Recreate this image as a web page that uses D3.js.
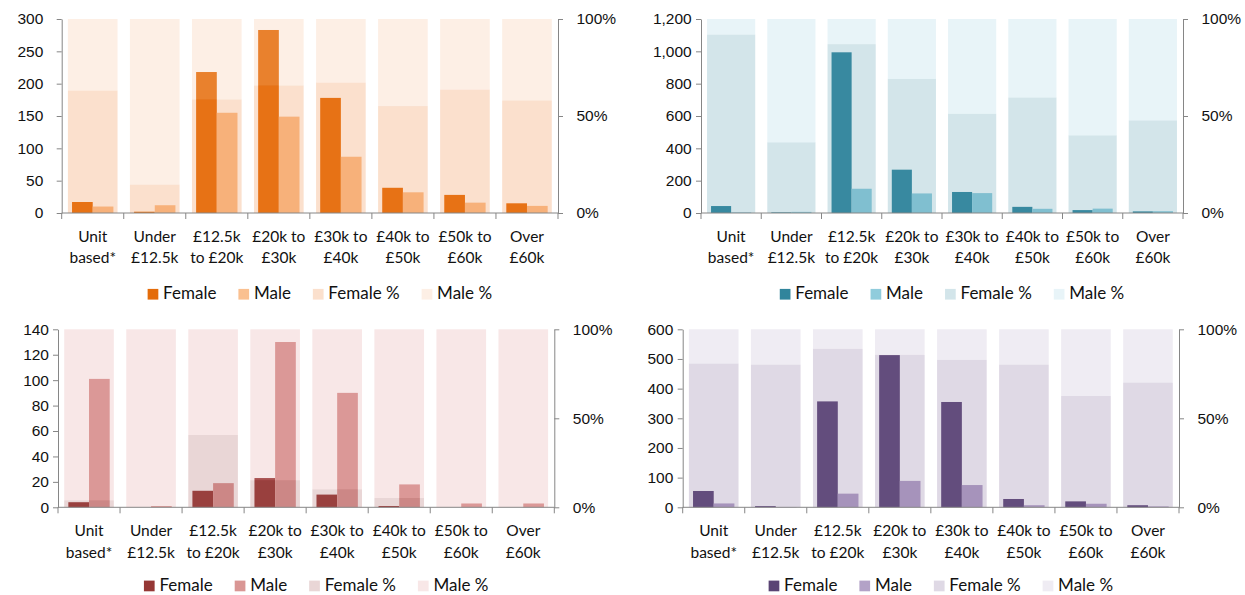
<!DOCTYPE html>
<html>
<head>
<meta charset="utf-8">
<script src="https://cdn.jsdelivr.net/npm/d3@7"></script>
<style>
  html, body { margin: 0; padding: 0; background: #fff; }
  svg { display: block; font-family: Lato, "Noto Sans", sans-serif; }
  .axis path, .axis line { stroke: #868686; }
  .axis text { fill: #111; font-size: 15.5px; }
</style>
</head>
<body>
<svg id="chart" width="1245" height="595"></svg>
<script>
// Salary bands shared by all four charts
const categories = ["Unit\nbased*", "Under\n£12.5k", "£12.5k\nto £20k", "£20k to\n£30k",
                    "£30k to\n£40k", "£40k to\n£50k", "£50k to\n£60k", "Over\n£60k"];
const seriesNames = ["Female", "Male", "Female %", "Male %"];
const pctTicks = [0, 50, 100];

// Orange chart (top left)
const orangeFemale    = [17, 2, 218, 283, 178, 39, 28, 15];
const orangeMale      = [10, 12, 155, 149, 87, 32, 16, 11];
const orangeFemalePct = [63.1, 14.6, 58.5, 65.7, 67.2, 55.1, 63.6, 58.0];
const orangeMalePct   = [36.9, 85.4, 41.5, 34.3, 32.8, 44.9, 36.4, 42.0];
const orangeTicks     = [0, 50, 100, 150, 200, 250, 300];

// Teal chart (top right)
const tealFemale    = [43, 4, 994, 268, 130, 38, 18, 10];
const tealMale      = [4, 7, 150, 121, 123, 26, 27, 11];
const tealFemalePct = [91.9, 36.4, 87.0, 69.1, 51.1, 59.5, 40.0, 47.7];
const tealMalePct   = [8.1, 63.6, 13.0, 30.9, 48.9, 40.5, 60.0, 52.3];
const tealTicks     = [0, 200, 400, 600, 800, 1000, 1200];

// Red chart (bottom left)
const redFemale    = [4, 0, 13, 23, 10, 1, 0, 0];
const redMale      = [101, 1, 19, 130, 90, 18, 3, 3];
const redFemalePct = [3.9, 0, 40.6, 15.2, 10.1, 5.2, 0, 0];
const redMalePct   = [96.1, 100, 59.4, 84.8, 89.9, 94.8, 100, 100];
const redTicks     = [0, 20, 40, 60, 80, 100, 120, 140];

// Purple chart (bottom right)
const purpleFemale    = [55, 4, 357, 513, 355, 28, 20, 7];
const purpleMale      = [13, 1, 46, 89, 75, 7, 12, 3];
const purpleFemalePct = [80.7, 80.1, 89.0, 85.6, 82.8, 80.1, 62.5, 70.0];
const purpleMalePct   = [19.3, 19.9, 11.0, 14.4, 17.2, 19.9, 37.5, 30.0];
const purpleTicks     = [0, 100, 200, 300, 400, 500, 600];

const OVERLAY = 0.25; // share % bars sit on top, semi-transparent

const panels = [
  { female: orangeFemale, male: orangeMale, fPct: orangeFemalePct, mPct: orangeMalePct, ticks: orangeTicks,
    colors: ["#e46c0a", "#fac090", "#ef8337", "#f7bf97"],
    box: { l: 61.7, r: 558, t: 19, b: 213 }, leftPad: 13.4, legendY: 86.2 },
  { female: tealFemale, male: tealMale, fPct: tealFemalePct, mPct: tealMalePct, ticks: tealTicks,
    colors: ["#31859c", "#90ccdc", "#4f97ab", "#a3d3e3"],
    box: { l: 701, r: 1183, t: 19, b: 213 }, leftPad: 4.3, legendY: 86.2 },
  { female: redFemale, male: redMale, fPct: redFemalePct, mPct: redMalePct, ticks: redTicks,
    colors: ["#953735", "#d99694", "#a75b5b", "#e39f9f"],
    box: { l: 58, r: 554.3, t: 329.3, b: 507.3 }, leftPad: 4.0, legendY: 83.6 },
  { female: purpleFemale, male: purpleMale, fPct: purpleFemalePct, mPct: purpleMalePct, ticks: purpleTicks,
    colors: ["#5a4474", "#b3a2c7", "#7f6797", "#bfb3cf"],
    box: { l: 682.7, r: 1179, t: 329.3, b: 507.3 }, leftPad: 4.4, legendY: 83.6 }
];

const svg = d3.select("#chart");
const fmt = d3.format(",");

panels.forEach(p => {
  const { l, r, t, b } = p.box;
  const g = svg.append("g");

  const x = d3.scaleBand().domain(categories).range([l, r]).padding(0);
  const bw = x.bandwidth();
  const y = d3.scaleLinear().domain([0, d3.max(p.ticks)]).range([b, t]);
  const yPct = d3.scaleLinear().domain([0, 100]).range([b, t]);

  // Count bars (clustered)
  const groupW = bw / 1.5;
  const inner = d3.scaleBand().domain(["female", "male"]).range([0, groupW]).padding(0);
  const rows = categories.map((c, i) => ({ c, female: p.female[i], male: p.male[i] }));
  ["female", "male"].forEach((key, k) => {
    g.selectAll(null).data(rows).join("rect")
      .attr("x", d => x(d.c) + (bw - groupW) / 2 + inner(key))
      .attr("width", inner.bandwidth())
      .attr("y", d => y(d[key]))
      .attr("height", d => y(0) - y(d[key]))
      .attr("fill", p.colors[k]);
  });

  // Share bars stacked to 100%, drawn over the counts
  const pctRows = categories.map((c, i) => ({ c, fPct: p.fPct[i], mPct: p.mPct[i] }));
  const stack = d3.stack().keys(["fPct", "mPct"])(pctRows);
  stack.forEach((layer, k) => {
    g.selectAll(null).data(layer).join("rect")
      .attr("x", d => x(d.data.c) + bw * 0.1)
      .attr("width", bw * 0.8)
      .attr("y", d => yPct(d[1]))
      .attr("height", d => yPct(d[0]) - yPct(d[1]))
      .attr("fill", p.colors[2 + k])
      .attr("fill-opacity", OVERLAY);
  });

  // Left value axis
  g.append("g").attr("class", "axis").attr("transform", `translate(${l},0)`)
    .call(d3.axisLeft(y).tickValues(p.ticks).tickSize(5).tickPadding(p.leftPad).tickSizeOuter(0).tickFormat(fmt));

  // Right percentage axis
  g.append("g").attr("class", "axis").attr("transform", `translate(${r},0)`)
    .call(d3.axisRight(yPct).tickValues(pctTicks).tickSize(5).tickPadding(13.5).tickSizeOuter(0).tickFormat(d => d + "%"));

  // Category axis with ticks between bands
  const xa = g.append("g").attr("class", "axis");
  xa.append("line").attr("x1", l).attr("x2", r).attr("y1", b).attr("y2", b);
  xa.selectAll(null).data(categories.map(c => x(c)).concat([r])).join("line")
    .attr("x1", d => d).attr("x2", d => d).attr("y1", b).attr("y2", b + 6);
  const lbl = xa.selectAll(null).data(categories).join("text")
    .attr("text-anchor", "middle")
    .attr("transform", d => `translate(${x(d) + bw / 2},${b})`);
  lbl.each(function (d) {
    const lines = d.split("\n");
    d3.select(this).selectAll("tspan").data(lines).join("tspan")
      .attr("x", 0).attr("y", (s, i) => 28.6 + i * 21.7).text(s => s);
  });

  // Legend
  const leg = g.append("g").attr("transform", `translate(0,${b + p.legendY})`);
  const items = seriesNames.map((name, k) => {
    const it = leg.append("g");
    it.append("rect").attr("x", 0).attr("y", -10.3).attr("width", 10.7).attr("height", 10.7)
      .attr("fill", p.colors[k]).attr("fill-opacity", k >= 2 ? OVERLAY : 1);
    const tx = it.append("text").attr("x", 15.5).attr("y", 0).attr("fill", "#111")
      .style("font-size", "17px").text(name);
    return { it, w: 15.5 + tx.node().getComputedTextLength() };
  });
  const gap = 22;
  const total = d3.sum(items, d => d.w) + gap * (items.length - 1);
  let cx = (l + r) / 2 + 10 - total / 2;
  items.forEach(d => { d.it.attr("transform", `translate(${cx},0)`); cx += d.w + gap; });
});
</script>
</body>
</html>
